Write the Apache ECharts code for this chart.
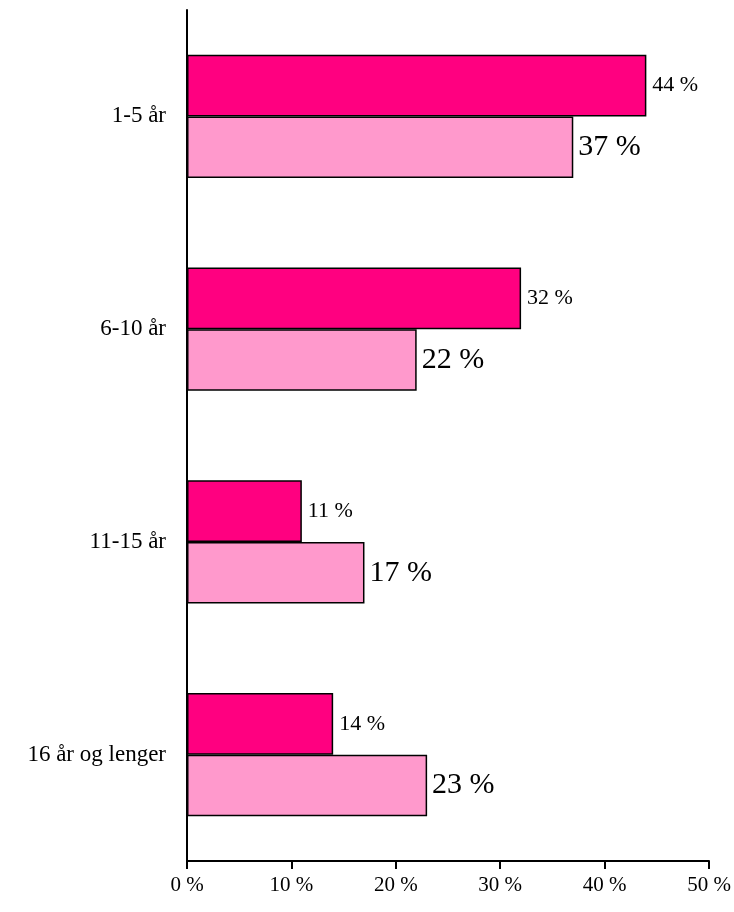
<!DOCTYPE html>
<html>
<head>
<meta charset="utf-8">
<script src="https://cdn.jsdelivr.net/npm/echarts@6/dist/echarts.min.js"></script>
<style>
html,body{margin:0;padding:0;background:#fff;}
#c{width:734px;height:912px;}
</style>
</head>
<body>
<div id="c"></div>
<script>
var categories = ["1-5 år", "6-10 år", "11-15 år", "16 år og lenger"];
var seriesDark = [44, 32, 11, 14];
var seriesLight = [37, 22, 17, 23];
var xTicks = [0, 10, 20, 30, 40, 50];

var chart = echarts.init(document.getElementById('c'));
var font = "'Liberation Serif', 'Times New Roman', serif";
chart.setOption({
  animation: false,
  grid: {left: 187, right: 25, top: 10, bottom: 51, containLabel: false},
  xAxis: {
    type: 'value',
    min: xTicks[0], max: xTicks[xTicks.length - 1], interval: 10,
    axisLine: {show: true, lineStyle: {color: '#000', width: 2}},
    axisTick: {show: true, length: 8, lineStyle: {color: '#000', width: 2}},
    splitLine: {show: false},
    axisLabel: {color: '#000', fontFamily: font, fontSize: 21, margin: 14,
      formatter: function (v) { return v + ' %'; }}
  },
  yAxis: {
    type: 'category',
    data: categories,
    inverse: true,
    axisLine: {show: true, lineStyle: {color: '#000', width: 2}},
    axisTick: {show: false},
    axisLabel: {color: '#000', fontFamily: font, fontSize: 23, margin: 21}
  },
  series: [
    {
      type: 'bar', data: seriesDark, barGap: '0%', barCategoryGap: '42%',
      itemStyle: {color: '#FF0080', borderColor: '#000', borderWidth: 1.5},
      label: {show: true, position: 'right', distance: 6, color: '#000', fontFamily: font, fontSize: 22,
        formatter: function (p) { return p.value + ' %'; }}
    },
    {
      type: 'bar', data: seriesLight, barGap: '0%', barCategoryGap: '42%',
      itemStyle: {color: '#FF99CC', borderColor: '#000', borderWidth: 1.5},
      label: {show: true, position: 'right', distance: 5, color: '#000', fontFamily: font, fontSize: 30,
        formatter: function (p) { return p.value + ' %'; }}
    }
  ]
});
</script>
</body>
</html>
